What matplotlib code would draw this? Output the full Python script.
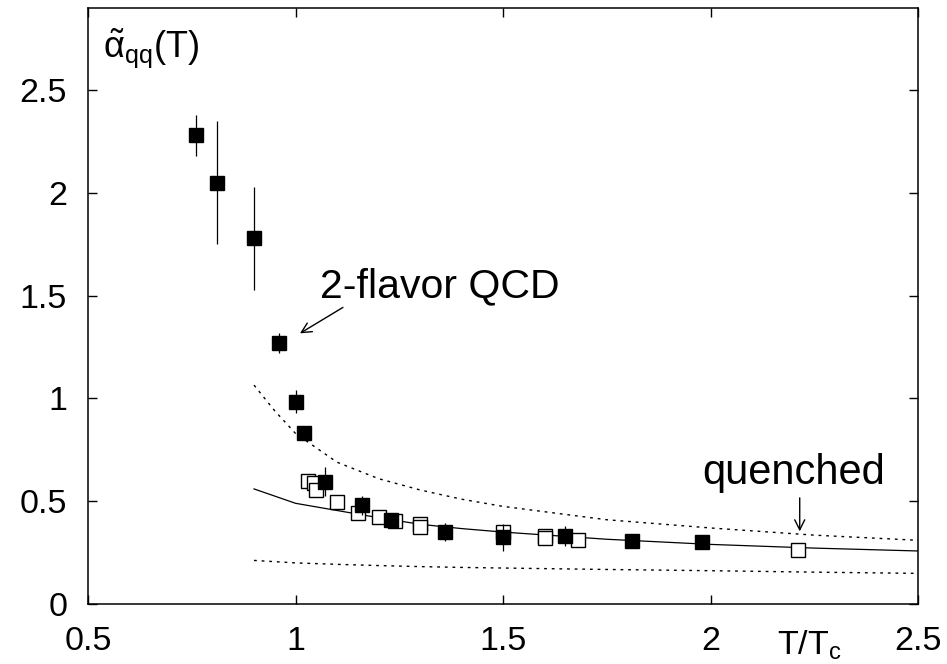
"""
Effective coupling alpha_qq(T) versus T/T_c: 2-flavor QCD (filled) and
quenched (open) lattice data, with the perturbative band.
"""

import matplotlib
matplotlib.use("Agg")
import matplotlib.pyplot as plt

plt.rcParams["font.family"] = ["Liberation Sans", "DejaVu Sans"]
plt.rcParams["mathtext.fontset"] = "custom"
plt.rcParams["mathtext.rm"] = "Liberation Sans"
plt.rcParams["mathtext.it"] = "Liberation Sans"

# 2-flavor QCD (filled squares)
nf2_t = [0.76, 0.81, 0.90, 0.96, 1.00, 1.02, 1.07, 1.16, 1.23, 1.36, 1.50, 1.65, 1.81, 1.98]
nf2_a = [2.28, 2.05, 1.78, 1.27, 0.985, 0.83, 0.595, 0.48, 0.41, 0.35, 0.325, 0.33, 0.305, 0.30]
nf2_err = [0.10, 0.30, 0.25, 0.047, 0.057, 0.03, 0.07, 0.045, 0.02, 0.045, 0.065, 0.05, 0.01, 0.01]

# quenched (open squares)
q_t = [1.03, 1.045, 1.05, 1.10, 1.15, 1.20, 1.24, 1.30, 1.30, 1.50, 1.60, 1.60, 1.68, 2.21]
q_a = [0.60, 0.59, 0.555, 0.495, 0.445, 0.425, 0.405, 0.39, 0.375, 0.35, 0.33, 0.32, 0.31, 0.265]
q_err = [0.02, 0.02, 0.03, 0.02, 0.02, 0.02, 0.02, 0.03, 0.03, 0.02, 0.02, 0.02, 0.015, 0.01]

# perturbative curves (central, upper and lower)
pt_t = [0.90, 0.95, 1.00, 1.10, 1.20, 1.30, 1.40, 1.50, 1.75, 2.00, 2.25, 2.50]
pt_mid = [0.56, 0.525, 0.49, 0.455, 0.42, 0.388, 0.367, 0.35, 0.315, 0.29, 0.272, 0.258]
pt_up = [1.065, 0.94, 0.83, 0.69, 0.61, 0.555, 0.51, 0.475, 0.41, 0.37, 0.335, 0.31]
pt_lo = [0.212, 0.206, 0.20, 0.193, 0.187, 0.182, 0.178, 0.175, 0.168, 0.162, 0.155, 0.149]

xticks = [0.5, 1, 1.5, 2, 2.5]
xtick_labels = ["0.5", "1", "1.5", "2", "2.5"]
yticks = [0, 0.5, 1, 1.5, 2, 2.5]
ytick_labels = ["0", "0.5", "1", "1.5", "2", "2.5"]

fig = plt.figure(figsize=(9.47, 6.64), dpi=100)
ax = fig.add_axes([88 / 947, 1 - 604 / 664, 830 / 947, 596 / 664])

ax.plot(pt_t, pt_mid, color="black", lw=0.9)
ax.plot(pt_t, pt_up, color="black", lw=1.0, linestyle=(0, (2, 3.5)))
ax.plot(pt_t, pt_lo, color="black", lw=1.0, linestyle=(0, (2, 3.5)))

ax.errorbar(q_t, q_a, yerr=q_err, fmt="s", mfc="white", mec="black",
            mew=1.0, ms=10, ecolor="black", elinewidth=0.9, capsize=0, zorder=3)
ax.errorbar(nf2_t, nf2_a, yerr=nf2_err, fmt="s", color="black",
            ms=10, ecolor="black", elinewidth=0.9, capsize=0, zorder=4)

ax.set_xlim(0.5, 2.5)
ax.set_ylim(0, 2.9)
ax.set_xticks(xticks)
ax.set_xticklabels(xtick_labels)
ax.set_yticks(yticks)
ax.set_yticklabels(ytick_labels)
ax.tick_params(direction="in", length=6.5, width=1.0, top=True, right=True,
               labelsize=24.5)
ax.tick_params(axis="x", pad=16)
ax.tick_params(axis="y", pad=15)
for sp in ax.spines.values():
    sp.set_linewidth(1.1)

ax.text(0.018, 0.97, r"$\tilde{\alpha}_{qq}$(T)", transform=ax.transAxes,
        fontsize=26, ha="left", va="top")
ax.text(0.830, -0.0856, r"T/T$_\mathregular{c}$", transform=ax.transAxes,
        fontsize=24.5, ha="left", va="baseline")

ax.text(1.06, 1.493, "2-flavor QCD", fontsize=29.5, ha="left", va="baseline")
ax.annotate("", xy=(1.005, 1.31), xytext=(1.12, 1.45),
            arrowprops=dict(arrowstyle="->", color="black", lw=1.0,
                            mutation_scale=18))
ax.text(2.20, 0.584, "quenched", fontsize=30, ha="center", va="baseline")
ax.annotate("", xy=(2.215, 0.34), xytext=(2.215, 0.53),
            arrowprops=dict(arrowstyle="->", color="black", lw=1.0,
                            mutation_scale=18))

fig.savefig("out.png", dpi=100)
